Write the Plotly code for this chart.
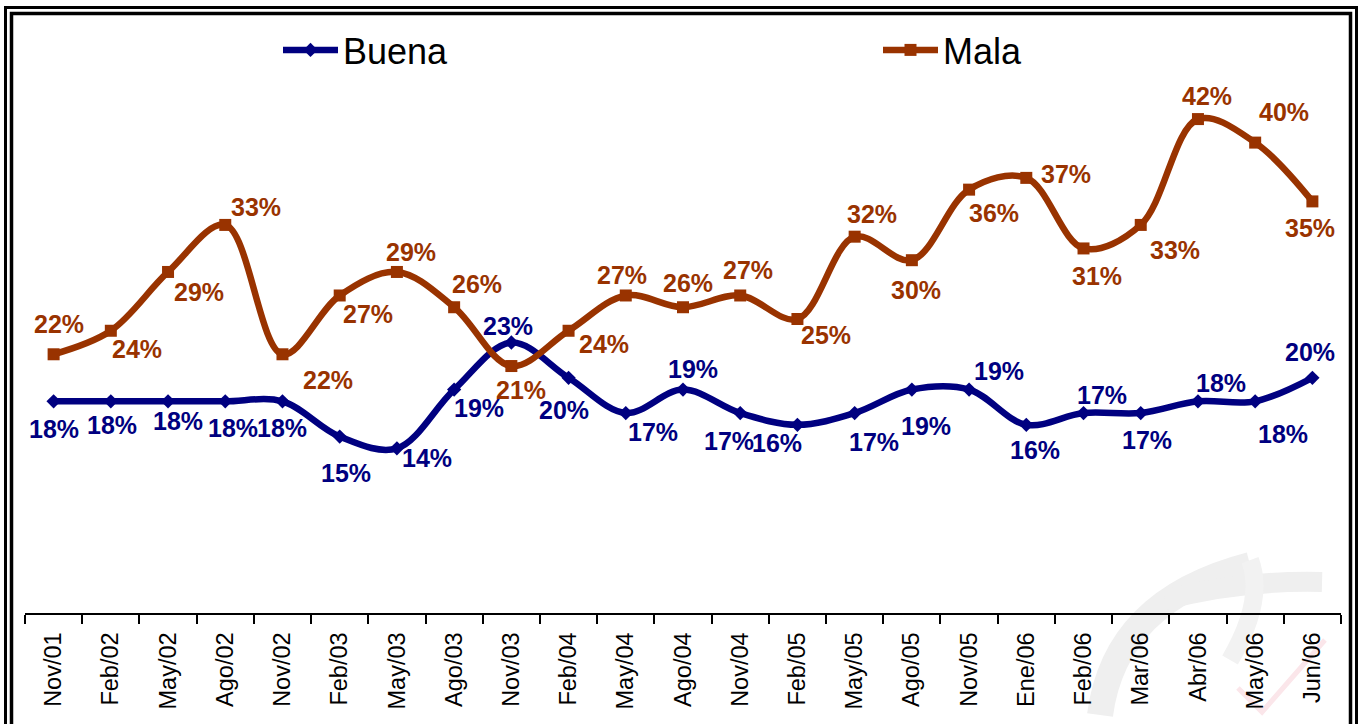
import plotly.graph_objects as go

# ---- data ----
categories = ["Nov/01", "Feb/02", "May/02", "Ago/02", "Nov/02", "Feb/03", "May/03", "Ago/03",
              "Nov/03", "Feb/04", "May/04", "Ago/04", "Nov/04", "Feb/05", "May/05", "Ago/05",
              "Nov/05", "Ene/06", "Feb/06", "Mar/06", "Abr/06", "May/06", "Jun/06"]
buena = [18, 18, 18, 18, 18, 15, 14, 19, 23, 20, 17, 19, 17, 16, 17, 19, 19, 16, 17, 17, 18, 18, 20]
mala = [22, 24, 29, 33, 22, 27, 29, 26, 21, 24, 27, 26, 27, 25, 32, 30, 36, 37, 31, 33, 42, 40, 35]

# ---- label offsets (pixels, screen coords: +dy = down) ----
mala_dx = [5, 26, 31, 31, 46, 28, 14, 23, 10, 35, -4, 5, 8, 29, 17, 4, 25, 40, 13, 34, 9, 29, -2]
mala_dy = [-29, 19, 21, -17, 27, 20, -19, -22, 25, 14, -19, -23, -24, 17, -22, 31, 24, -3, 29, 26, -22, -30, 28]
buena_dx = [0, 1, 10, 8, 0, 6, 30, 25, -3, -5, 27, 10, -11, -20, 19, 14, 30, 9, 18, 6, 23, 28, -2]
buena_dy = [29, 25, 21, 28, 28, 37, 11, 19, -16, 33, 20, -20, 29, 19, 30, 37, -18, 26, -17, 28, -17, 34, -25]

BLUE = "#000080"
BROWN = "#993300"
FONT = "Liberation Sans, Arial, sans-serif"

W, H = 1359, 724
ML, MR, MT, MB = 25, 18, 25, 111
PW, PH = W - ML - MR, H - MT - MB


def px_x(px):
    return (px - ML) / PW


def px_y(py):
    return (H - MB - py) / PH


def pth(points):
    # simple quadratic/line path in paper coords from pixel tuples
    cmd = []
    for item in points:
        op, *pts = item
        coords = " ".join(f"{px_x(a):.4f},{px_y(b):.4f}" for a, b in pts)
        cmd.append(f"{op} {coords}")
    return " ".join(cmd)


fig = go.Figure()
fig.add_trace(go.Scatter(
    x=categories, y=buena, name="Buena", mode="lines+markers", legend="legend",
    line=dict(color=BLUE, width=6.5, shape="spline", smoothing=1),
    marker=dict(symbol="diamond", size=11, color=BLUE),
))
fig.add_trace(go.Scatter(
    x=categories, y=mala, name="Mala", mode="lines+markers", legend="legend2",
    line=dict(color=BROWN, width=6.5, shape="spline", smoothing=1),
    marker=dict(symbol="square", size=12, color=BROWN),
))

annotations = []
for series, dxs, dys, col in ((mala, mala_dx, mala_dy, BROWN), (buena, buena_dx, buena_dy, BLUE)):
    for c, v, dx, dy in zip(categories, series, dxs, dys):
        annotations.append(dict(
            x=c, y=v, xref="x", yref="y", text=f"{v}%", showarrow=False,
            xshift=dx, yshift=-dy + 1,
            font=dict(family=FONT, size=25, color=col, weight="bold"),
        ))

shapes = [
    # faint watermark logo (decorative)
    dict(type="path", xref="paper", yref="paper", layer="below",
         path=pth([("M", (1100, 715)), ("Q", (1115, 600), (1250, 565))]),
         line=dict(color="#efefef", width=26)),
    dict(type="path", xref="paper", yref="paper", layer="below",
         path=pth([("M", (1165, 600)), ("Q", (1240, 580), (1322, 582))]),
         line=dict(color="#efefef", width=20)),
    dict(type="path", xref="paper", yref="paper", layer="below",
         path=pth([("M", (1250, 560)), ("Q", (1265, 600), (1230, 660))]),
         line=dict(color="#f2f2f2", width=18)),
    dict(type="path", xref="paper", yref="paper", layer="below",
         path=pth([("M", (1238, 688)), ("L", (1262, 712)), ("L", (1325, 640))]),
         line=dict(color="#fbe6ea", width=5)),
    # outer frame
    dict(type="rect", xref="paper", yref="paper",
         x0=px_x(5.5), x1=px_x(1356.5), y0=px_y(740), y1=px_y(7.5),
         line=dict(color="black", width=3), layer="above"),
    # inner frame
    dict(type="rect", xref="paper", yref="paper",
         x0=px_x(11.5), x1=px_x(1350.5), y0=px_y(740), y1=px_y(13.5),
         line=dict(color="black", width=3.5), layer="above"),
]

legend_common = dict(
    orientation="h", xanchor="left", yanchor="middle",
    font=dict(family=FONT, size=36, color="black"),
    itemwidth=55, bgcolor="rgba(0,0,0,0)",
)

fig.update_layout(
    width=W, height=H,
    margin=dict(l=ML, r=MR, t=MT, b=MB),
    paper_bgcolor="white", plot_bgcolor="rgba(0,0,0,0)",
    showlegend=True,
    legend=dict(x=px_x(278), y=px_y(50), **legend_common),
    legend2=dict(x=px_x(878), y=px_y(50), **legend_common),
    xaxis=dict(
        type="category", showgrid=False, zeroline=False,
        showline=True, linecolor="black", linewidth=2,
        ticks="outside", tickson="boundaries", ticklen=9, tickwidth=2, tickcolor="black",
        tickangle=-90, tickfont=dict(family=FONT, size=23.5, color="black"),
        ticklabelstandoff=8,
        range=[-0.5, len(categories) - 0.5],
    ),
    yaxis=dict(visible=False, range=[0, 50], fixedrange=True),
    annotations=annotations,
    shapes=shapes,
)

fig.write_html("out.html", config={"displayModeBar": False},
               post_script="document.body.style.margin='0';")
